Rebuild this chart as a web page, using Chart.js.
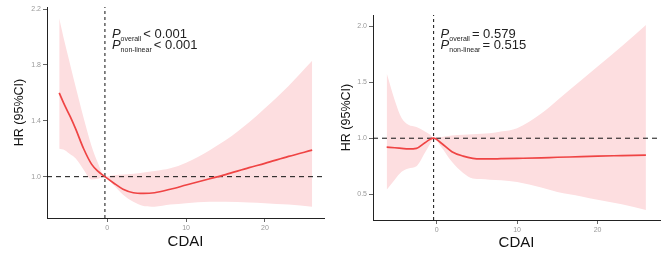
<!DOCTYPE html>
<html>
<head>
<meta charset="utf-8">
<script src="https://cdn.jsdelivr.net/npm/chart.js@4"></script>
<style>
  html, body { margin: 0; padding: 0; background: #fff; }
  #wrap { position: relative; width: 669px; height: 258px; }
  .pane { position: absolute; top: 0; height: 258px; }
</style>
</head>
<body>
<div id="wrap">
  <div class="pane" style="left:0;width:335px"><canvas id="chartLeft"></canvas></div>
  <div class="pane" style="left:335px;width:334px"><canvas id="chartRight"></canvas></div>
</div>
<script>
// left panel: CDAI vs HR with 95% CI
const cdaiLeft  = [-6.1, -5.4, -4.7, -4.0, -3.0, -2.0, -1.2, -0.3, 0.8, 2.0, 3.3, 4.6, 6.0, 8.0, 10, 13, 15, 18, 20, 23, 26];
const hrLeft    = [1.60, 1.51, 1.43, 1.34, 1.20, 1.09, 1.04, 1.00, 0.955, 0.91, 0.885, 0.88, 0.885, 0.91, 0.94, 0.985, 1.015, 1.065, 1.095, 1.145, 1.19];
const lowerLeft = [1.20, 1.19, 1.16, 1.13, 1.05, 0.98, 0.985, 1.00, 0.94, 0.87, 0.82, 0.79, 0.785, 0.80, 0.81, 0.82, 0.82, 0.815, 0.81, 0.80, 0.785];
const upperLeft = [2.135, 1.96, 1.80, 1.64, 1.42, 1.22, 1.10, 1.00, 1.01, 1.015, 1.02, 1.03, 1.04, 1.06, 1.10, 1.19, 1.26, 1.39, 1.49, 1.65, 1.83];

// right panel
const cdaiRight  = [-6.2, -5.2, -4.35, -3.5, -2.5, -1.45, -0.8, -0.37, 0.6, 1.9, 3.3, 4.5, 5.5, 6.6, 8, 10, 13, 15, 18, 20, 23, 26];
const hrRight    = [0.92, 0.915, 0.91, 0.905, 0.91, 0.96, 0.99, 1.00, 0.955, 0.88, 0.84, 0.82, 0.815, 0.815, 0.817, 0.82, 0.825, 0.83, 0.835, 0.84, 0.845, 0.85];
const lowerRight = [0.54, 0.63, 0.70, 0.73, 0.75, 0.87, 0.95, 1.00, 0.92, 0.79, 0.69, 0.64, 0.635, 0.63, 0.625, 0.61, 0.56, 0.52, 0.48, 0.45, 0.41, 0.36];
const upperRight = [1.58, 1.34, 1.18, 1.12, 1.10, 1.06, 1.03, 1.00, 1.01, 1.025, 1.03, 1.035, 1.04, 1.045, 1.06, 1.09, 1.22, 1.34, 1.52, 1.64, 1.82, 2.01];

const xTicks = [0, 10, 20];
const yTicksLeft = [1.0, 1.4, 1.8, 2.2];
const yTicksRight = [0.5, 1.0, 1.5, 2.0];

const refLineLeft = -0.3;
const refLineRight = -0.37;

const pSubs = ['overall', 'non-linear'];
const pValsLeft = ['< 0.001', '< 0.001'];
const pValsRight = ['= 0.579', '= 0.515'];

const FONT = '"Liberation Sans", Arial, sans-serif';

// draws the P values with subscripts next to the reference line
const pText = {
  id: 'pText',
  afterDraw(chart, args, opts) {
    const ctx = chart.ctx;
    const x0 = chart.scales.x.getPixelForValue(opts.at) + 7;
    ctx.save();
    ctx.fillStyle = '#222';
    ctx.textBaseline = 'alphabetic';
    opts.subs.forEach((sub, i) => {
      const y = 38 + i * 11;
      let x = x0;
      ctx.font = 'italic 13px ' + FONT;
      ctx.fillText('P', x, y);
      x += ctx.measureText('P').width;
      ctx.font = '7px ' + FONT;
      ctx.fillText(sub, x, y + 3);
      x += ctx.measureText(sub).width + 2;
      ctx.font = '13px ' + FONT;
      ctx.fillText(opts.vals[i], x, y);
    });
    ctx.restore();
  }
};

function pts(xs, ys) {
  return xs.map((x, i) => ({ x: x, y: ys[i] }));
}

function makeChart(id, cfg) {
  const ctx = document.getElementById(id);
  new Chart(ctx, {
    type: 'line',
    data: {
      datasets: [
        {
          data: pts(cfg.xs, cfg.upper),
          borderWidth: 0,
          pointRadius: 0,
          backgroundColor: 'rgba(253, 222, 224, 1)',
          fill: '+1',
          order: 10,
          cubicInterpolationMode: 'monotone'
        },
        {
          data: pts(cfg.xs, cfg.lower),
          borderWidth: 0,
          pointRadius: 0,
          fill: false,
          order: 9,
          cubicInterpolationMode: 'monotone'
        },
        {
          data: [{ x: cfg.xMin, y: 1 }, { x: cfg.xMax, y: 1 }],
          borderColor: '#111',
          borderWidth: 1,
          borderDash: [5, 4],
          pointRadius: 0,
          fill: false,
          order: 2
        },
        {
          data: [{ x: cfg.ref, y: cfg.yMin }, { x: cfg.ref, y: cfg.yMax }],
          borderColor: '#111',
          borderWidth: 1,
          borderDash: [3, 3],
          pointRadius: 0,
          fill: false,
          order: 1
        },
        {
          data: pts(cfg.xs, cfg.hr),
          borderColor: '#ef4444',
          borderWidth: 1.7,
          pointRadius: 0,
          fill: false,
          order: 0,
          cubicInterpolationMode: 'monotone'
        }
      ]
    },
    options: {
      responsive: false,
      animation: false,
      events: [],
      layout: { padding: cfg.pad },
      plugins: {
        legend: { display: false },
        tooltip: { enabled: false },
        pText: { at: cfg.ref, subs: pSubs, vals: cfg.pVals }
      },
      scales: {
        x: {
          type: 'linear',
          min: cfg.xMin,
          max: cfg.xMax,
          afterBuildTicks: s => { s.ticks = xTicks.map(v => ({ value: v })); },
          afterFit: s => { s.height = cfg.xH; },
          grid: { drawOnChartArea: false, tickLength: 4, color: '#666' },
          border: { display: true, color: '#222', width: 1 },
          ticks: { color: '#999', font: { size: 7, family: FONT }, padding: 2, maxRotation: 0 },
          title: { display: true, text: 'CDAI', color: '#111', font: { size: 15, family: FONT }, padding: { top: 0, bottom: cfg.xTitlePad } }
        },
        y: {
          min: cfg.yMin,
          max: cfg.yMax,
          afterBuildTicks: s => { s.ticks = cfg.yTicks.map(v => ({ value: v })); },
          afterFit: s => { s.width = cfg.yW; },
          grid: { drawOnChartArea: false, tickLength: 4, color: '#666' },
          border: { display: true, color: '#222', width: 1 },
          ticks: { color: '#999', font: { size: 7, family: FONT }, padding: 2, callback: v => v.toFixed(1) },
          title: { display: true, text: 'HR (95%CI)', color: '#111', font: { size: 12.5, family: FONT }, padding: { top: cfg.yTitlePad, bottom: 0 } }
        }
      }
    },
    plugins: [pText]
  });
}

document.getElementById('chartLeft').width = 335;
document.getElementById('chartLeft').height = 258;
document.getElementById('chartRight').width = 334;
document.getElementById('chartRight').height = 258;

makeChart('chartLeft', {
  xs: cdaiLeft, hr: hrLeft, lower: lowerLeft, upper: upperLeft,
  xMin: -7.65, xMax: 27.5, yMin: 0.704, yMax: 2.215,
  yTicks: yTicksLeft, ref: refLineLeft, pVals: pValsLeft,
  pad: { top: 7, right: 11, bottom: 0, left: 0 },
  xH: 40, yW: 47, xTitlePad: 7.5, yTitlePad: 12.5
});

makeChart('chartRight', {
  xs: cdaiRight, hr: hrRight, lower: lowerRight, upper: upperRight,
  xMin: -7.9, xMax: 27.75, yMin: 0.27, yMax: 2.10,
  yTicks: yTicksRight, ref: refLineRight, pVals: pValsRight,
  pad: { top: 15, right: 9, bottom: 0, left: 0 },
  xH: 38, yW: 38, xTitlePad: 6.5, yTitlePad: 4.5
});
</script>
</body>
</html>
